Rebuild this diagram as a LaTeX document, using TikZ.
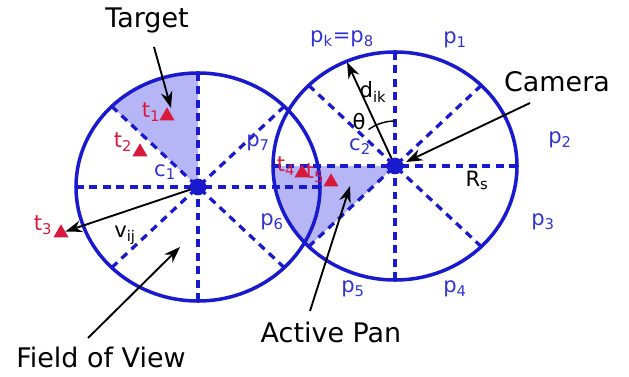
\documentclass[tikz,border=0pt]{standalone}
\usepackage{fontspec}
\setmainfont{DejaVu Sans}
\usetikzlibrary{arrows.meta,calc,shapes.geometric}
\definecolor{cblue}{RGB}{25,25,205}
\definecolor{lblue}{RGB}{50,50,210}
\definecolor{sfill}{RGB}{182,182,246}
\definecolor{tred}{RGB}{215,25,60}
\begin{document}
\begin{tikzpicture}[x=0.03cm,y=0.03cm,
  rim/.style={cblue,line width=3pt},
  spoke/.style={cblue,line width=2.8pt,dash pattern=on 6.5pt off 5pt},
  lab/.style={lblue,font=\fontsize{18}{18}\selectfont,inner sep=0pt},
  tlab/.style={tred,font=\fontsize{18}{18}\selectfont,inner sep=0pt},
  blab/.style={black,font=\fontsize{18}{18}\selectfont,inner sep=0pt},
  big/.style={black,font=\fontsize{23}{23}\selectfont,inner sep=0pt},
  tri/.style={regular polygon,regular polygon sides=3,fill=tred,minimum size=0.52cm,inner sep=0pt},
  camdot/.style={circle,fill=cblue,minimum size=0.5cm,inner sep=0pt},
  arr/.style={black,line width=1.6pt,-{Stealth[length=14pt,width=10pt]}}
]
\useasboundingbox (0,0) rectangle (629,-377);
\coordinate (C1) at (198,-187);
\coordinate (C2) at (395,-166);
% shaded sectors
\fill[sfill] (C1) -- ([shift={(90:3.66cm and 3.42cm)}]C1) arc[start angle=90,end angle=135,x radius=3.66cm,y radius=3.42cm] -- cycle;
\fill[sfill] (C2) -- ([shift={(180:3.66cm and 3.42cm)}]C2) arc[start angle=180,end angle=225,x radius=3.66cm,y radius=3.42cm] -- cycle;
% spokes
\foreach \a in {0,45,...,315}{
  \draw[spoke] ([shift={(\a:3.66cm and 3.42cm)}]C1) -- (C1);
  \draw[spoke] ([shift={(\a:3.66cm and 3.42cm)}]C2) -- (C2);
}
% circles
\draw[rim] (C1) ellipse[x radius=3.66cm,y radius=3.42cm];
\draw[rim] (C2) ellipse[x radius=3.66cm,y radius=3.42cm];
% theta arc
\draw[black,line width=1.2pt] ([shift={(90:1.35cm)}]C2) arc[start angle=90,end angle=126,radius=1.35cm];
% targets
\node[tri] (tr1) at (167,-116) {};
\node[tri] (tr2) at (140,-152) {};
\node[tri] (tr3) at (61,-233) {};
\node[tri] (tr4) at (302,-173) {};
\node[tri] (tr5) at (331,-182) {};
\node[tlab] (lt1) at (151,-112) {t\textsubscript{1}};
\node[tlab] (lt2) at (123,-142) {t\textsubscript{2}};
\node[tlab] (lt3) at (43,-225) {t\textsubscript{3}};
\node[tlab] (lt4) at (286,-166) {t\textsubscript{4}};
\node[tlab] (lt5) at (315,-173) {t\textsubscript{5}};
% blue labels
\node[lab] (pk) at (342,-39) {p\textsubscript{k}=p\textsubscript{8}};
\node[lab] (p1) at (455,-40) {p\textsubscript{1}};
\node[lab] (p2) at (560,-140) {p\textsubscript{2}};
\node[lab] (p3) at (543,-222) {p\textsubscript{3}};
\node[lab] (p4) at (455,-289) {p\textsubscript{4}};
\node[lab] (p5) at (353,-289) {p\textsubscript{5}};
\node[lab] (p6) at (272,-222) {p\textsubscript{6}};
\node[lab] (p7) at (258,-143) {p\textsubscript{7}};
\node[lab] (lc1) at (165,-172) {c\textsubscript{1}};
\node[lab] (lc2) at (360,-147) {c\textsubscript{2}};
% black labels
\node[blab] (vij) at (125,-235) {v\textsubscript{ij}};
\node[blab] (dik) at (373,-92) {d\textsubscript{ik}};
\node[blab] (th) at (359,-122) {θ};
\node[blab] (rs) at (477,-180) {R\textsubscript{s}};
\node[big] (target) at (147,-20) {Target};
\node[big] (camera) at (557,-82) {Camera};
\node[big] (apan) at (331,-332) {Active Pan};
\node[big] (fov) at (101,-357) {Field of View};
% arrows
\coordinate (ts) at (154,-47);
\coordinate (te) at (171,-108);
\draw[arr] (ts) -- (te);
\draw[arr] (C1) -- (tr3);
\coordinate (fs) at (88,-338);
\coordinate (fe) at (180,-247);
\draw[arr] (fs) -- (fe);
\coordinate (cs) at (530,-103);
\coordinate (ce) at (406,-162);
\draw[arr] (cs) -- (ce);
\coordinate (as) at (310,-311);
\coordinate (ae) at (350,-186);
\draw[arr] (as) -- (ae);
\coordinate (de) at (347,-62);
\draw[arr] (C2) -- (de);
% camera dots
\node[camdot] (cam1) at (C1) {};
\node[camdot] (cam2) at (C2) {};
\end{tikzpicture}
\end{document}
